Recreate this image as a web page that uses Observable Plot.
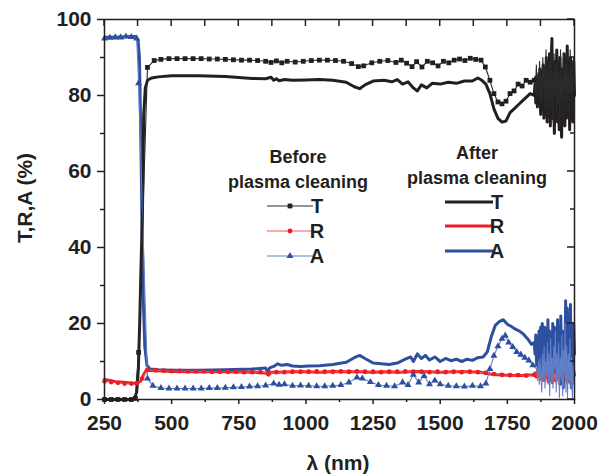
<!DOCTYPE html>
<html>
<head>
<meta charset="utf-8">
<script src="https://cdn.jsdelivr.net/npm/d3@7"></script>
<script src="https://cdn.jsdelivr.net/npm/@observablehq/plot@0.6"></script>
<style>
  html, body { margin: 0; padding: 0; background: #fff; }
  #chart { width: 601px; height: 476px; }
  #chart svg text { font-weight: bold; }
</style>
</head>
<body>
<div id="chart"></div>
<script>
// ---------- data ----------
const xMajorTicks = [250, 500, 750, 1000, 1250, 1500, 1750, 2000];
const xMinorTicks = [375, 625, 875, 1125, 1375, 1625, 1875];
const yMajorTicks = [0, 20, 40, 60, 80, 100];
const yMinorTicks = [10, 30, 50, 70, 90];

// Before plasma cleaning: T
const beforeT_wl = [250,275,300,325,350,365,377,410,435,460,490,520,550,580,610,640,670,700,730,760,790,820,850,870,890,910,930,960,990,1020,1050,1080,1110,1140,1170,1195,1215,1245,1275,1305,1335,1355,1375,1395,1412,1432,1452,1472,1492,1512,1532,1552,1572,1592,1612,1632,1652,1668,1685,1700,1715,1730,1745,1760,1775,1790,1805,1820,1835,1850,
  1852,1855,1858,1861,1864,1867,1870,1873,1876,1879,1882,1885,1888,1891,1894,1897,1900,1903,1906,1909,1912,1915,1918,1921,1924,1927,1930,1933,1936,1939,1942,1945,1948,1951,1954,1957,1960,1963,1966,1969,1972,1975,1978,1981,1984,1987,1990,1993,1996,2000];
const beforeT = [0,0,0,0,0,0.3,12.4,87.4,89.2,89.5,89.7,89.7,89.7,89.7,89.7,89.6,89.6,89.5,89.4,89.3,89.3,89.2,89.0,88.7,89.1,88.6,89.0,88.8,89.0,89.2,89.3,89.3,89.2,89.0,88.4,87.6,87.8,88.6,89.0,89.2,88.7,89.3,88.5,87.6,88.9,87.5,89.0,88.6,87.8,89.0,88.6,89.3,89.6,89.2,89.8,89.5,89.3,87.5,84.0,80.5,78.3,77.8,78.5,80.5,81.2,83.0,82.5,84.0,83.5,84.0,
  85,81,88,80,86,82,89,79,85,78,90,82,87,76,92,80,86,75,89,79,93,77,86,73,91,80,88,75,90,78,86,72,92,79,85,74,90,81,88,76,91,79,86,75,92,80,87,76,90,82];

// Before plasma cleaning: R
const beforeR_wl = [250,275,300,325,350,370,390,410,440,470,500,530,560,590,620,650,680,710,740,770,800,830,860,890,920,950,980,1010,1040,1070,1100,1130,1160,1190,1220,1250,1280,1310,1340,1370,1400,1430,1460,1490,1520,1550,1580,1610,1640,1670,1700,1730,1760,1790,1820,1850,
  1856,1862,1868,1874,1880,1886,1892,1898,1904,1910,1916,1922,1928,1934,1940,1946,1952,1958,1964,1970,1976,1982,1988,1994,2000];
const beforeR = [4.8,4.6,4.4,4.2,4.2,4.3,5.5,7.8,7.7,7.6,7.5,7.5,7.4,7.4,7.4,7.3,7.3,7.3,7.3,7.2,7.2,7.2,7.0,7.2,7.2,7.3,7.3,7.3,7.4,7.3,7.3,7.4,7.3,7.4,7.3,7.3,7.2,7.3,7.3,7.4,7.3,7.3,7.2,7.3,7.2,7.3,7.2,7.3,7.2,7.0,6.7,6.5,6.4,6.4,6.3,6.5,
  7.2,5.9,7.8,5.4,8.3,6.0,4.8,8.6,5.6,8.9,4.4,7.6,5.1,9.1,4.0,8.2,5.5,3.8,8.8,5.2,7.4,4.6,8.7,5.0,6.3];

// Before plasma cleaning: A
const beforeA_wl = [250,270,290,310,330,350,370,377,410,430,460,490,520,550,580,610,640,670,700,730,760,790,820,850,880,900,920,950,980,1010,1040,1070,1100,1130,1160,1190,1210,1240,1270,1300,1330,1360,1380,1400,1420,1440,1460,1480,1500,1530,1560,1590,1620,1650,1670,1685,1700,1715,1730,1742,1755,1770,1785,1800,1815,1830,1845,1860,
  1863,1866,1869,1872,1875,1878,1881,1884,1887,1890,1893,1896,1899,1902,1905,1908,1911,1914,1917,1920,1923,1926,1929,1932,1935,1938,1941,1944,1947,1950,1953,1956,1959,1962,1965,1968,1971,1974,1977,1980,1983,1986,1989,1992,1995,1998,2000];
const beforeA = [95.0,95.2,95.3,95.3,95.5,95.4,95.0,83.2,5.5,3.6,3.0,2.9,2.9,2.9,2.9,2.9,3.0,3.0,3.1,3.2,3.3,3.4,3.5,3.7,4.2,3.9,4.0,3.6,3.7,3.6,3.5,3.5,3.6,3.8,4.5,5.8,5.5,4.6,3.8,3.6,3.5,4.5,3.8,6.5,4.5,6.2,4.0,5.0,4.0,3.6,3.5,3.4,3.6,3.5,4.2,8.0,11.5,14.0,16.0,16.8,15.0,13.8,12.5,11.8,11.0,10.3,9.0,8.0,
  5,10,4,11,6,2,12,5,14,3,10,7,15,4,12,1,16,6,11,3,14,8,18,2,12,5,15,0.5,11,6,17,1,13,7,20,2,14,0.5,12,5,16,3,11,0.5,9,4,7];

// After plasma cleaning: T
const afterT_wl = [250,300,350,362,370,376,381,386,391,396,402,410,425,450,500,600,700,800,850,870,880,890,900,920,950,1000,1050,1100,1150,1180,1200,1220,1250,1290,1320,1340,1360,1380,1400,1415,1430,1450,1470,1500,1530,1560,1590,1620,1640,1655,1670,1685,1700,1715,1730,1745,1760,1775,1790,1805,1820,1835,1850,
  1853,1856,1859,1862,1865,1868,1871,1874,1877,1880,1883,1886,1889,1892,1895,1898,1901,1904,1907,1910,1913,1916,1919,1922,1925,1928,1931,1934,1937,1940,1943,1946,1949,1952,1955,1958,1961,1964,1967,1970,1973,1976,1979,1982,1985,1988,1991,1994,1997,2000];
const afterT = [0,0,0,0.3,2,8,20,35,48,75,82,84,84.6,84.9,85.2,85.2,85.0,84.5,84.4,84.8,84.0,84.4,83.9,84.2,84.0,84.1,84.2,84.0,83.5,82.3,81.8,82.8,83.8,84.0,83.6,84.2,83.0,83.6,82.0,81.2,82.8,82.0,83.2,83.0,83.5,83.2,83.8,83.8,84.6,84.0,83.0,80.5,76.5,74.0,73.0,73.3,75.5,76.5,77.5,78.5,79.5,80.5,80.0,
  83,78,85,77,84,79,87,75,86,80,88,74,83,77,90,73,85,79,91,72,88,95,74,84,70,89,78,92,73,86,71,90,76,69,87,80,91,72,85,74,93,77,88,71,90,79,86,73,89,80];

// After plasma cleaning: R
const afterR_wl = [250,270,290,310,330,350,370,385,395,405,430,500,600,700,800,850,860,870,900,950,1000,1050,1100,1150,1200,1250,1300,1350,1400,1450,1500,1550,1600,1650,1680,1700,1750,1800,1850,
  1854,1858,1862,1866,1870,1874,1878,1882,1886,1890,1894,1898,1902,1906,1910,1914,1918,1922,1926,1930,1934,1938,1942,1946,1950,1954,1958,1962,1966,1970,1974,1978,1982,1986,1990,1994,1998,2000];
const afterR = [5.3,5.0,4.7,4.6,4.5,4.3,4.3,4.8,6.5,7.6,7.6,7.4,7.3,7.3,7.2,7.0,6.4,7.2,7.2,7.3,7.3,7.2,7.4,7.3,7.3,7.2,7.3,7.2,7.4,7.3,7.2,7.3,7.3,7.2,6.8,6.6,6.4,6.3,6.5,
  7.0,5.9,7.4,6.1,7.8,5.4,8.2,6.3,5.0,8.5,5.8,7.9,4.7,8.8,5.5,7.2,4.4,9.0,6.0,4.9,8.4,5.3,7.6,4.1,8.9,5.7,3.9,8.1,5.2,9.2,4.6,7.7,5.8,4.3,8.6,5.4,7.3,6.4];

// After plasma cleaning: A
const afterA_wl = [250,280,310,340,365,375,380,385,390,395,400,408,420,450,500,600,700,800,850,858,865,880,895,910,930,950,980,1010,1050,1100,1150,1180,1200,1220,1250,1280,1310,1340,1370,1390,1400,1415,1430,1445,1460,1480,1500,1520,1540,1560,1580,1600,1620,1640,1660,1675,1690,1705,1720,1735,1750,1765,1780,1795,1810,1825,1840,1850,
  1853,1856,1859,1862,1865,1868,1871,1874,1877,1880,1883,1886,1889,1892,1895,1898,1901,1904,1907,1910,1913,1916,1919,1922,1925,1928,1931,1934,1937,1940,1943,1946,1949,1952,1955,1958,1961,1964,1967,1970,1973,1976,1979,1982,1985,1988,1991,1994,1997,2000];
const afterA = [95.3,95.3,95.4,95.5,95.5,94.5,90,70,45,25,14,9,8.0,7.8,7.7,7.7,7.8,8.0,8.3,7.2,8.3,8.7,9.4,9.0,9.2,8.8,8.7,8.8,8.9,9.2,9.8,11.0,11.6,10.8,9.6,9.4,9.2,9.6,10.6,11.2,10.0,12.0,10.8,11.6,10.4,11.2,10.0,10.8,10.2,10.6,10.0,10.6,10.3,11.0,11.2,12.5,16.5,19.5,20.5,21.0,19.8,19.2,18.5,18.0,17.2,16.0,14.5,15,
  12,17,9,16,8,18,11,19,7,20,13,10,19,6,17,9,21,11,18,5,16,8,20,12,19,6,17,10,21,7,14,4,22,9,18,3,16,8,26,10,24,5,19,11,25,3,18,7,20,12];

// ---------- build tables ----------
const rows = (wl, v) => wl.map((x, i) => ({wl: x, v: v[i]}));
const markerMax = 1850; // markers on the "before" curves up to the noisy region

const colBlack = "#231f20", colRed = "#ed1c24", colBlue = "#2e4f9f";
const thinBlack = "#2a2a2a", thinRed = "#f0555a", thinBlue = "#5f7fc6";

const dBT = rows(beforeT_wl, beforeT), dBR = rows(beforeR_wl, beforeR), dBA = rows(beforeA_wl, beforeA);
const dAT = rows(afterT_wl, afterT), dAR = rows(afterR_wl, afterR), dAA = rows(afterA_wl, afterA);
const mk = d => d.filter(r => r.wl <= markerMax);

const font = "'Liberation Sans', Arial, Helvetica, sans-serif";
const axisText = {fontSize: 21, fontWeight: "bold", fill: colBlack};

const chart = Plot.plot({
  width: 601,
  height: 476,
  marginLeft: 104,
  marginRight: 27,
  marginTop: 19,
  marginBottom: 77,
  x: {domain: [250, 2000]},
  y: {domain: [0, 100]},
  style: {fontFamily: font, fontWeight: "bold", background: "#fff", color: colBlack, overflow: "visible"},
  marks: [
    // after plasma cleaning (thick lines)
    Plot.line(dAR, {x: "wl", y: "v", stroke: colRed, strokeWidth: 3}),
    Plot.line(dAA, {x: "wl", y: "v", stroke: colBlue, strokeWidth: 3}),
    Plot.line(dAT, {x: "wl", y: "v", stroke: colBlack, strokeWidth: 3}),
    // before plasma cleaning (thin lines + markers)
    Plot.line(dBR, {x: "wl", y: "v", stroke: thinRed, strokeWidth: 1.1}),
    Plot.line(dBA, {x: "wl", y: "v", stroke: thinBlue, strokeWidth: 1.1}),
    Plot.line(dBT, {x: "wl", y: "v", stroke: thinBlack, strokeWidth: 1.1}),
    Plot.dot(mk(dBR), {x: "wl", y: "v", symbol: "circle", r: 2.4, fill: colRed}),
    Plot.dot(mk(dBA), {x: "wl", y: "v", symbol: "triangle", r: 2.6, fill: colBlue}),
    Plot.dot(mk(dBT), {x: "wl", y: "v", symbol: "square", r: 2.7, fill: colBlack}),
    // frame and axes
    Plot.frame({stroke: colBlack, strokeWidth: 1.5}),
    Plot.axisX({anchor: "bottom", ticks: xMajorTicks, tickSize: 5, tickPadding: 11, strokeWidth: 1.5, label: null, tickFormat: d => String(d), ...axisText}),
    Plot.axisX({anchor: "bottom", ticks: xMinorTicks, tickSize: 3, strokeWidth: 1.5, label: null, tickFormat: () => ""}),
    Plot.axisY({anchor: "left", ticks: yMajorTicks, tickSize: 7, tickPadding: 6, strokeWidth: 1.5, label: null, tickFormat: d => String(d), ...axisText}),
    Plot.axisY({anchor: "left", ticks: yMinorTicks, tickSize: 4, strokeWidth: 1.5, label: null, tickFormat: () => ""})
  ]
});

document.getElementById("chart").appendChild(chart);

// ---------- inward ticks on top and right edges (positions from Plot's scales) ----------
const svg = d3.select(chart);
svg.selectAll("text").attr("font-weight", "bold");
const sx = chart.scale("x"), sy = chart.scale("y");
const yTopPx = sy.apply(100), xRightPx = sx.apply(2000);
const tg = svg.append("g").attr("stroke", colBlack).attr("stroke-width", 1.5);
xMajorTicks.concat(xMinorTicks).forEach(v => {
  const px = sx.apply(v);
  tg.append("line").attr("x1", px).attr("x2", px).attr("y1", yTopPx).attr("y2", yTopPx + 7);
});
yMajorTicks.forEach(v => {
  const py = sy.apply(v);
  tg.append("line").attr("x1", xRightPx - 7).attr("x2", xRightPx).attr("y1", py).attr("y2", py);
});
yMinorTicks.forEach(v => {
  const py = sy.apply(v);
  tg.append("line").attr("x1", xRightPx - 4).attr("x2", xRightPx).attr("y1", py).attr("y2", py);
});

// ---------- axis titles and legends ----------
const g = svg.append("g").attr("font-family", font).attr("font-weight", "bold").attr("fill", colBlack);

g.append("text").attr("x", 338).attr("y", 462).attr("dy", "0.36em").attr("text-anchor", "middle")
  .attr("font-size", 21).text("λ (nm)");
g.append("text").attr("transform", "translate(24,198) rotate(-90)").attr("dy", "0.36em")
  .attr("text-anchor", "middle").attr("font-size", 21).text("T,R,A (%)");

function legend(title, cx, ty, items, lx0, lx1, thin) {
  g.append("text").attr("x", cx).attr("y", ty).attr("dy", "0.36em").attr("text-anchor", "middle")
    .attr("font-size", 18).text(title[0]);
  g.append("text").attr("x", cx).attr("y", ty + 25).attr("dy", "0.36em").attr("text-anchor", "middle")
    .attr("font-size", 18).text(title[1]);
  items.forEach(it => {
    g.append("line").attr("x1", lx0).attr("x2", lx1).attr("y1", it.y).attr("y2", it.y)
      .attr("stroke", it.stroke).attr("stroke-width", thin ? 1.1 : 3);
    if (it.symbol) {
      g.append("path").attr("d", d3.symbol(it.symbol, Math.PI * it.r * it.r)())
        .attr("transform", `translate(${(lx0 + lx1) / 2},${it.y})`).attr("fill", it.fill);
    }
    g.append("text").attr("x", lx1 + 4).attr("y", it.y).attr("dy", "0.36em")
      .attr("font-size", 20).text(it.label);
  });
}

legend(["Before", "plasma cleaning"], 298, 157, [
  {label: "T", y: 206, stroke: thinBlack, symbol: d3.symbolSquare, r: 2.7, fill: colBlack},
  {label: "R", y: 231, stroke: thinRed, symbol: d3.symbolCircle, r: 2.4, fill: colRed},
  {label: "A", y: 256, stroke: thinBlue, symbol: d3.symbolTriangle, r: 2.6, fill: colBlue}
], 267, 313, true);

legend(["After", "plasma cleaning"], 477, 153, [
  {label: "T", y: 202, stroke: colBlack},
  {label: "R", y: 226, stroke: colRed},
  {label: "A", y: 251, stroke: colBlue}
], 445, 493, false);
</script>
</body>
</html>
